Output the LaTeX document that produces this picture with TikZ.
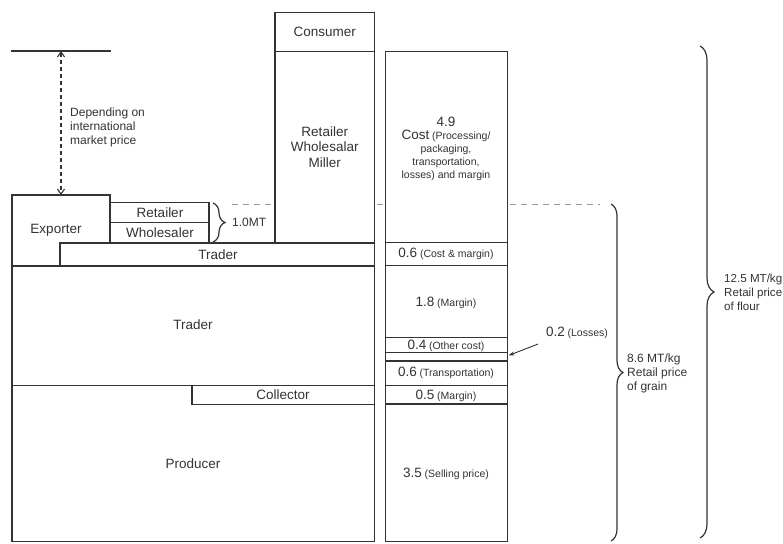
\documentclass[tikz,border=0pt]{standalone}
\usepackage{fontspec}
\setmainfont{Liberation Sans}
\usetikzlibrary{arrows.meta,decorations.pathreplacing}
\newcommand{\fbig}{\fontsize{13.5}{15.5}\selectfont}
\newcommand{\fmid}{\fontsize{12}{14}\selectfont}
\newcommand{\fside}{\fontsize{11.6}{14}\selectfont}
\newcommand{\fsmall}{\fontsize{10.5}{13.5}\selectfont}
\definecolor{ink}{HTML}{333333}
\begin{document}
\begin{tikzpicture}[x=1pt,y=-1pt,
  box/.style={draw=ink,line width=1.1pt},
  lbl/.style={text=ink,font=\fbig,inner sep=0pt},
  note/.style={text=ink,font=\fmid,align=left,inner sep=0pt},
  price/.style={text=ink,inner sep=0pt,align=center},
  guide/.style={draw=black!40,line width=1pt,dash pattern=on 6pt off 5pt},
  bracket/.style={draw=ink,line width=1.2pt,decorate,decoration={brace,amplitude=#1}}]
\useasboundingbox (0,0) rectangle (783,543);
\fill[white] (0,0) rectangle (783,543);

% dashed guide at the 8.6 level
\draw[guide] (232,204) -- (274,204);
\draw[guide] (377,204) -- (385,204);
\draw[guide] (510,204) -- (600,204);

% international market reference line
\coordinate (mkt) at (61,51);
\draw[box] (11,51) -- (111,51);

% left column: exporter, retailer, wholesaler, traders, collector, producer
\draw[box] (12,266) -- (12,195) -- (110,195) -- (110,243);
\node[lbl] (exporter) at (56,230) {Exporter};
\coordinate (exptop) at (61,195);
\draw[box] (110,202.5) rectangle (209,222.5);
\node[lbl] (retailer) at (160,212.5) {Retailer};
\draw[box] (110,222.5) rectangle (209,243);
\node[lbl] (wholesaler) at (160,233) {Wholesaler};
\draw[box] (60,243) rectangle (374.5,266);
\node[lbl] (trader1) at (218,255) {Trader};
\draw[box] (12,266) rectangle (374.5,385.3);
\node[lbl] (trader2) at (193,325) {Trader};
\draw[box] (12,385.3) rectangle (374.5,541.5);
\draw[box] (192,385.3) rectangle (374.5,404.3);
\node[lbl] (collector) at (283,395) {Collector};
\node[lbl] (producer) at (193,464) {Producer};

% middle column
\draw[box] (275,12.7) rectangle (374.5,51.7);
\node[lbl] (consumer) at (324.75,32) {Consumer};
\draw[box] (275,51.7) rectangle (374.5,243);
\node[lbl,align=center] (rwm) at (324.75,147) {Retailer\\Wholesalar\\Miller};

% right column: price build-up
\draw[box] (385.5,51.7) rectangle (507.5,242.7);
\draw[box] (385.5,242.7) rectangle (507.5,265.7);
\draw[box] (385.5,265.7) rectangle (507.5,337.7);
\draw[box] (385.5,337.7) rectangle (507.5,352.7);
\draw[box] (385.5,352.7) rectangle (507.5,361);
\draw[box] (385.5,361) rectangle (507.5,385.3);
\draw[box] (385.5,385.3) rectangle (507.5,404);
\draw[box] (385.5,404) rectangle (507.5,541.7);
\coordinate (loss) at (508.5,355.5);

\node[price,font=\fbig] (p49) at (446,121.7) {4.9};
\node[price] (p49a) at (446,136) {{\fbig Cost} {\fsmall(Processing/}};
\node[price,font=\fsmall] (p49b) at (446,150) {packaging,};
\node[price,font=\fsmall] (p49c) at (446,163) {transportation,};
\node[price,font=\fsmall] (p49d) at (446,176) {losses) and margin};
\node[price] (p06a) at (446,254) {{\fbig 0.6} {\fsmall(Cost \& margin)}};
\node[price] (p18) at (446,302.5) {{\fbig 1.8} {\fsmall(Margin)}};
\node[price] (p04) at (446,345.5) {{\fbig 0.4} {\fsmall(Other cost)}};
\node[price] (p06b) at (446,373) {{\fbig 0.6} {\fsmall(Transportation)}};
\node[price] (p05) at (446,395.5) {{\fbig 0.5} {\fsmall(Margin)}};
\node[price] (p35) at (446,474) {{\fbig 3.5} {\fsmall(Selling price)}};
\node[price] (p02) at (577,333) {{\fbig 0.2} {\fsmall(Losses)}};
\coordinate (p02tail) at (538,344);

% connectors
\draw[ink,line width=1.1pt,dash pattern=on 4pt off 3pt,
  {Straight Barb[length=5pt,width=7pt]}-{Straight Barb[length=5pt,width=7pt]}]
  (mkt) -- (exptop);
\draw[ink,line width=0.9pt,-{Stealth[length=6pt,width=4pt]}] (p02tail) -- (loss);

% annotations
\node[note,anchor=west] (intl) at (70,127) {Depending on\\international\\market price};

% braces
\draw[bracket=12pt] (213,203) -- (213,242);
\node[note,anchor=west] (mt10) at (232,222) {1.0MT};
\draw[bracket=12pt] (611,204) -- (611,541);
\node[note,anchor=west] (grain) at (627,373) {8.6 MT/kg\\Retail price\\of grain};
\draw[bracket=14pt] (700,46) -- (700,538);
\node[note,anchor=west,font=\fside] (flour) at (724,292) {12.5 MT/kg\\Retail price\\of flour};
\end{tikzpicture}
\end{document}
